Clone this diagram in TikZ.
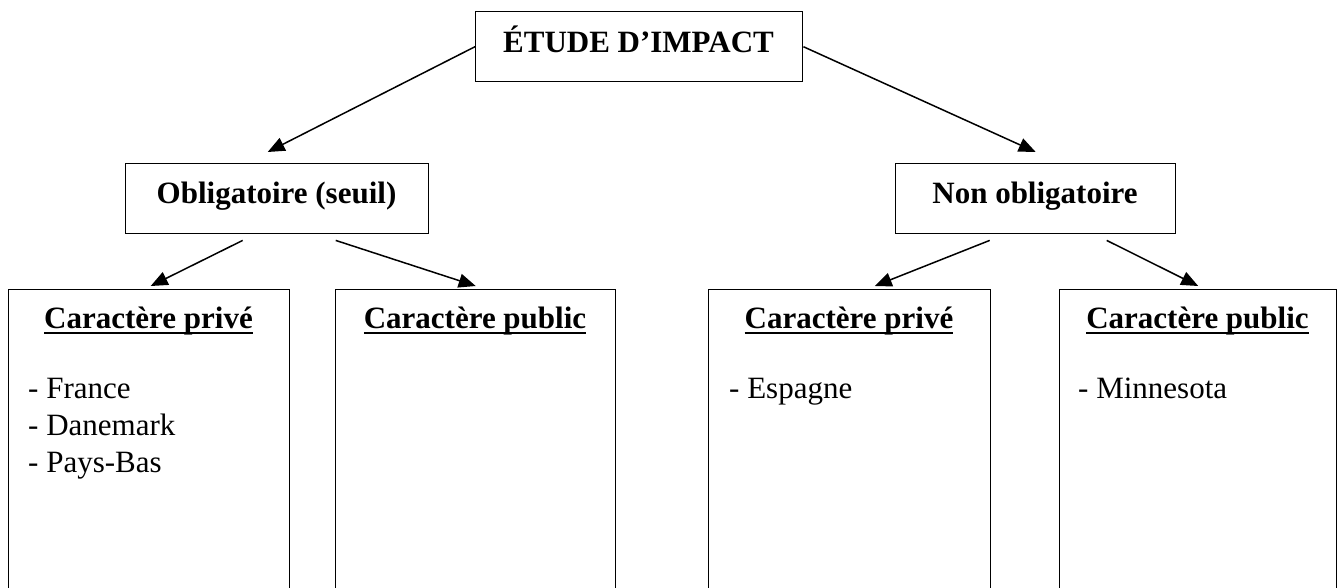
\documentclass[tikz,border=0pt]{standalone}
\usepackage{fontspec}
\setmainfont{Liberation Serif}
\usetikzlibrary{arrows.meta}
\newcommand{\ulx}[1]{\setbox0\hbox{#1}\rlap{\rule[-6.2pt]{\wd0}{2.6pt}}\box0}
\begin{document}
\begin{tikzpicture}[x=1pt,y=-1pt,
  box/.style={draw,line width=1.4pt,rectangle,inner sep=0pt,anchor=north west},
  lbl/.style={anchor=base,font=\fontsize{31}{36.5}\selectfont\bfseries,inner sep=0pt},
  lst/.style={anchor=base west,font=\fontsize{31}{36.5}\selectfont,inner sep=0pt},
  arr/.style={line width=1.5pt,-{Triangle[length=17pt,width=14pt]}}]
\useasboundingbox (0,0) rectangle (1341,587);
\clip (0,0) rectangle (1341,587);
% boxes
\node[box,minimum width=327pt,minimum height=70pt] (top) at (475,11) {};
\node[box,minimum width=303pt,minimum height=70pt] (obl) at (125,163) {};
\node[box,minimum width=280pt,minimum height=70pt] (non) at (895,163) {};
\node[box,minimum width=281pt,minimum height=330pt] (b1) at (8,289) {};
\node[box,minimum width=280pt,minimum height=330pt] (b2) at (335,289) {};
\node[box,minimum width=282pt,minimum height=330pt] (b3) at (708,289) {};
\node[box,minimum width=277pt,minimum height=330pt] (b4) at (1059,289) {};
% labels
\node[lbl] (ttop) at (638.5,52) {ÉTUDE D’IMPACT};
\node[lbl] (tobl) at (276.5,203) {Obligatoire (seuil)};
\node[lbl] (tnon) at (1035,203) {Non obligatoire};
\node[lbl] (h1) at (148.5,328) {\ulx{Caractère privé}};
\node[lbl] (h2) at (475,328) {\ulx{Caractère public}};
\node[lbl] (h3) at (849,328) {\ulx{Caractère privé}};
\node[lbl] (h4) at (1197.5,328) {\ulx{Caractère public}};
\node[lst] (l1a) at (28,398) {- France};
\node[lst] (l1b) at (28,435) {- Danemark};
\node[lst] (l1c) at (28,472) {- Pays-Bas};
\node[lst] (l3) at (729,398) {- Espagne};
\node[lst] (l4) at (1078,398) {- Minnesota};
% connectors
\draw[arr] (top.west) -- ([xshift=-9.5pt,yshift=11pt]obl.north);
\draw[arr] (top.east) -- ([yshift=11pt]non.north);
\draw[arr] ([xshift=-34.5pt,yshift=-6pt]obl.south) -- ([xshift=1.5pt,yshift=3pt]b1.north);
\draw[arr] ([xshift=58.5pt,yshift=-6pt]obl.south) -- ([yshift=3pt]b2.north);
\draw[arr] ([xshift=-46pt,yshift=-6pt]non.south) -- ([xshift=25pt,yshift=3pt]b3.north);
\draw[arr] ([xshift=71pt,yshift=-6pt]non.south) -- ([yshift=3pt]b4.north);
\end{tikzpicture}
\end{document}
